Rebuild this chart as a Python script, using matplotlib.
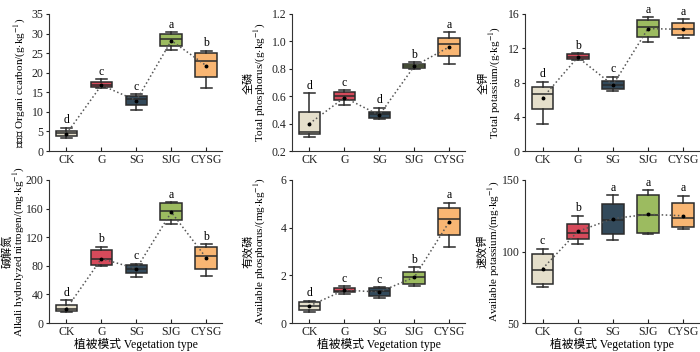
import matplotlib
matplotlib.use('Agg')
import matplotlib.pyplot as plt

plt.rcParams['font.family'] = ['Liberation Serif', 'Noto Sans CJK SC', 'DejaVu Sans']
plt.rcParams['mathtext.fontset'] = 'stix'

groups = ['CK', 'G', 'SG', 'SJG', 'CYSG']
colors = ['#e5dfcb', '#d64a5b', '#334a5b', '#9cbb60', '#f9b673']

# box stats per panel: (low whisker, q1, median, q3, high whisker), means, letters
oc_stats = [(3.4, 3.8, 4.5, 5.2, 6.0), (16.0, 16.3, 16.9, 17.7, 18.4), (10.5, 11.7, 13.4, 14.1, 14.5),
            (25.8, 26.8, 28.6, 29.8, 30.4), (16.1, 18.9, 22.9, 25.0, 25.6)]
oc_mean = [4.4, 16.8, 12.9, 28.2, 21.8]
oc_letters = ['d', 'c', 'c', 'a', 'b']

tp_stats = [(0.305, 0.322, 0.339, 0.485, 0.621), (0.536, 0.572, 0.604, 0.633, 0.645),
            (0.434, 0.438, 0.468, 0.485, 0.516), (0.799, 0.808, 0.823, 0.833, 0.847),
            (0.835, 0.896, 0.979, 1.027, 1.069)]
tp_mean = [0.40, 0.59, 0.462, 0.82, 0.96]
tp_letters = ['d', 'c', 'd', 'b', 'a']

tk_stats = [(3.2, 4.9, 6.67, 7.45, 8.1), (10.6, 10.7, 11.0, 11.3, 11.45), (7.06, 7.2, 7.7, 8.2, 8.67),
            (12.75, 13.3, 14.5, 15.3, 15.6), (13.2, 13.5, 14.2, 15.0, 15.4)]
tk_mean = [6.2, 10.95, 7.7, 14.3, 14.2]
tk_letters = ['d', 'b', 'c', 'a', 'a']

an_stats = [(15.4, 17.3, 20.0, 24.8, 31.8), (79.4, 81.3, 89.7, 102.0, 106.5), (64.5, 70.0, 75.0, 81.0, 83.0),
            (139.0, 144.0, 157.0, 167.3, 168.7), (66.0, 76.0, 94.0, 105.6, 110.0)]
an_mean = [20.0, 90.0, 76.0, 155.0, 91.0]
an_letters = ['d', 'b', 'c', 'a', 'b']

ap_stats = [(0.48, 0.56, 0.72, 0.87, 0.93), (1.21, 1.28, 1.35, 1.47, 1.54), (1.05, 1.14, 1.35, 1.46, 1.51),
            (1.56, 1.65, 1.91, 2.15, 2.33), (3.17, 3.69, 4.38, 4.81, 5.05)]
ap_mean = [0.72, 1.38, 1.30, 1.92, 4.25]
ap_letters = ['d', 'c', 'c', 'b', 'a']

ak_stats = [(75.2, 77.6, 87.4, 98.6, 101.9), (105.1, 108.4, 112.6, 119.2, 125.0), (108.0, 112.4, 121.9, 132.9, 139.3),
            (112.1, 112.9, 125.2, 139.5, 143.0), (116.0, 116.8, 123.6, 133.9, 139.0)]
ak_mean = [88.0, 114.0, 123.0, 126.0, 125.0]
ak_letters = ['c', 'b', 'a', 'a', 'a']

panels = [
    (oc_stats, oc_mean, oc_letters, '有机碳 Organi ccarbon/(g$\\cdot$kg$^{-1}$)', (0, 35), [0, 5, 10, 15, 20, 25, 30, 35], '%d'),
    (tp_stats, tp_mean, tp_letters, '全磷\nTotal phosphorus/(g$\\cdot$kg$^{-1}$)', (0.2, 1.2), [0.2, 0.4, 0.6, 0.8, 1.0, 1.2], '%.1f'),
    (tk_stats, tk_mean, tk_letters, '全钾\nTotal potassium/(g$\\cdot$kg$^{-1}$)', (0, 16), [0, 4, 8, 12, 16], '%d'),
    (an_stats, an_mean, an_letters, '碱解氮\nAlkali hydrolyzed nitrogen/(mg$\\cdot$kg$^{-1}$)', (0, 200), [0, 40, 80, 120, 160, 200], '%d'),
    (ap_stats, ap_mean, ap_letters, '有效磷\nAvailable phosphorus/(mg$\\cdot$kg$^{-1}$)', (0, 6), [0, 2, 4, 6], '%d'),
    (ak_stats, ak_mean, ak_letters, '速效钾\nAvailable potassium/(mg$\\cdot$kg$^{-1}$)', (50, 150), [50, 100, 150], '%d'),
]

W, H = 700, 352
fig = plt.figure(figsize=(7, 3.52), dpi=100)
lefts = [49, 292, 525]
widths = [173, 173, 174]
rows = [(14, 151), (180, 323)]
# distance (px) from axis line to the right edge of the y label
label_off = [21, 24, 22, 22, 24, 23]

for i, (stats, means, letters, ylabel, ylim, yticks, fmt) in enumerate(panels):
    r, c = divmod(i, 3)
    top, bot = rows[r]
    ax = fig.add_axes([lefts[c] / W, 1 - bot / H, widths[c] / W, (bot - top) / H])
    bxp = [dict(whislo=s[0], q1=s[1], med=s[2], q3=s[3], whishi=s[4], fliers=[]) for s in stats]
    b = ax.bxp(bxp, positions=range(5), widths=0.62, patch_artist=True, showfliers=False,
               boxprops=dict(linewidth=1.1, edgecolor='#2b2b2b'),
               medianprops=dict(color='#2b2b2b', linewidth=1.1),
               whiskerprops=dict(color='#2b2b2b', linewidth=1.1),
               capprops=dict(color='#2b2b2b', linewidth=1.1))
    for patch, col in zip(b['boxes'], colors):
        patch.set_facecolor(col)
    ax.plot(range(5), means, linestyle=':', color='#555555', linewidth=1.1, marker='o',
            markersize=1.8, markerfacecolor='black', markeredgecolor='black', zorder=5)
    span = ylim[1] - ylim[0]
    for x, s, lab in zip(range(5), stats, letters):
        ax.text(x, s[4] + span * 0.01, lab, ha='center', va='bottom', fontsize=8.5)
    ax.set_xlim(-0.5, 4.45)
    ax.set_ylim(*ylim)
    ax.set_yticks(yticks)
    ax.set_yticklabels([fmt % t for t in yticks])
    ax.set_xticks(range(5))
    ax.set_xticklabels(groups)
    ax.spines['top'].set_visible(False)
    ax.spines['right'].set_visible(False)
    for sp in ['left', 'bottom']:
        ax.spines[sp].set_linewidth(0.8)
        ax.spines[sp].set_color('#333333')
    ax.tick_params(axis='x', direction='in', length=3, width=0.8, labelsize=8.5, colors='#222222', pad=2)
    ax.tick_params(axis='y', direction='out', length=2.5, width=0.8, labelsize=8.5, colors='#222222', pad=1.5)
    ax.set_ylabel(ylabel, fontsize=8, linespacing=0.95)
    ax.yaxis.set_label_coords(-label_off[i] / widths[c], 0.5)
    if r == 1:
        ax.set_xlabel('植被模式 Vegetation type', fontsize=8.5, labelpad=0)

fig.savefig('out.png', dpi=100)
